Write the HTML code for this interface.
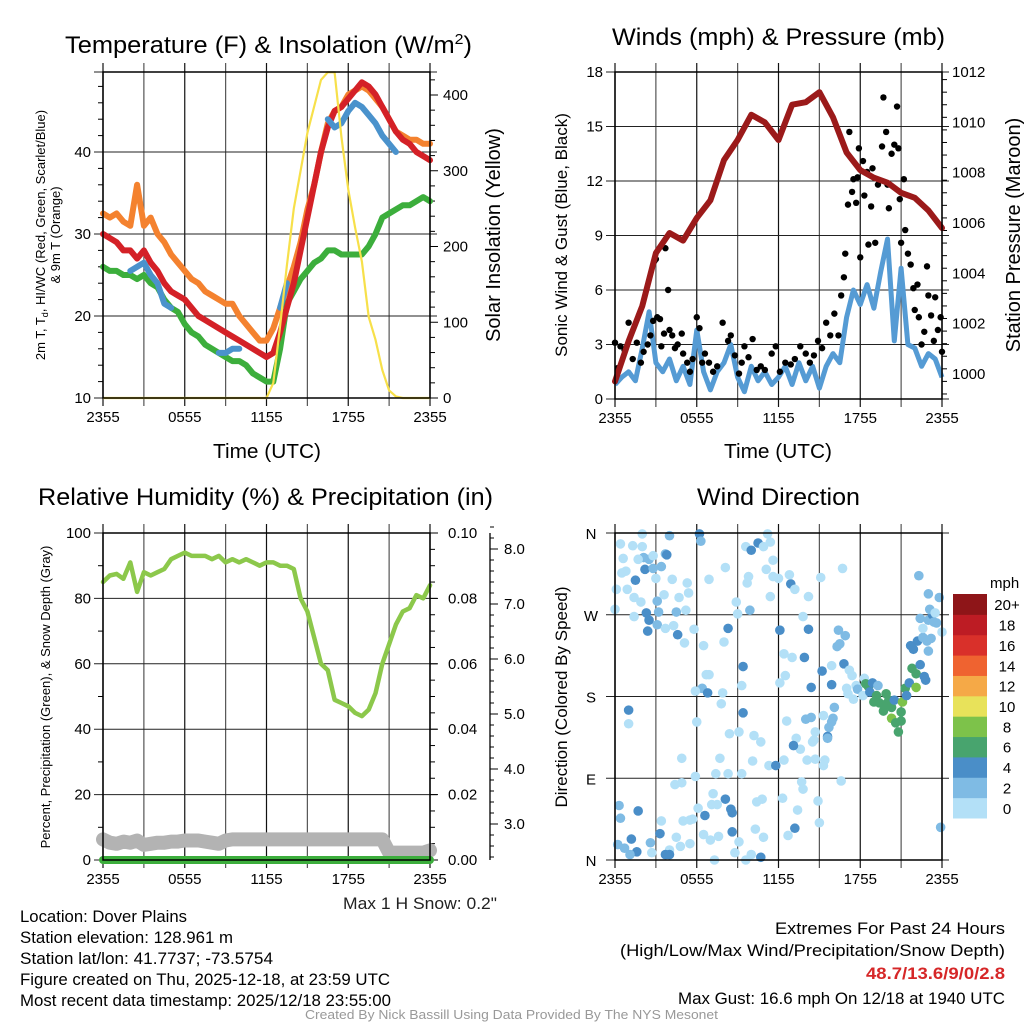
<!DOCTYPE html>
<html><head><meta charset="utf-8"><style>
body{margin:0;background:#fff;}
svg{display:block;font-family:"Liberation Sans",sans-serif;}
</style></head><body>
<svg id="c" width="1024" height="1024" viewBox="0 0 1024 1024" xmlns="http://www.w3.org/2000/svg">
<rect width="1024" height="1024" fill="#fff"/>
<g id="g"></g>
<text x="65" y="53" font-size="24" textLength="407" lengthAdjust="spacingAndGlyphs">Temperature (F) &amp; Insolation (W/m<tspan dy="-9" font-size="15">2</tspan><tspan dy="9">)</tspan></text>
<text x="612" y="45" font-size="24" textLength="333" lengthAdjust="spacingAndGlyphs">Winds (mph) &amp; Pressure (mb)</text>
<text x="38" y="505" font-size="24" textLength="455" lengthAdjust="spacingAndGlyphs">Relative Humidity (%) &amp; Precipitation (in)</text>
<text x="697" y="505" font-size="24" textLength="163" lengthAdjust="spacingAndGlyphs">Wind Direction</text>
<text x="213" y="458" font-size="20" textLength="108" lengthAdjust="spacingAndGlyphs">Time (UTC)</text>
<text x="724" y="458" font-size="20" textLength="108" lengthAdjust="spacingAndGlyphs">Time (UTC)</text>
<text transform="translate(45,235) rotate(-90)" font-size="13" text-anchor="middle"><tspan x="0" y="0">2m T, T<tspan font-size="9" dy="3">d</tspan><tspan dy="-3">, HI/WC (Red, Green, Scarlet/Blue)</tspan></tspan><tspan x="0" y="15">&amp; 9m T (Orange)</tspan></text>
<text transform="translate(500,235) rotate(-90)" font-size="20" text-anchor="middle">Solar Insolation (Yellow)</text>
<text transform="translate(567,235) rotate(-90)" font-size="17" text-anchor="middle">Sonic Wind &amp; Gust (Blue, Black)</text>
<text transform="translate(1020,235) rotate(-90)" font-size="20" text-anchor="middle">Station Pressure (Maroon)</text>
<text transform="translate(50,697) rotate(-90)" font-size="13" text-anchor="middle">Percent, Precipitation (Green), &amp; Snow Depth (Gray)</text>
<text transform="translate(567,697) rotate(-90)" font-size="17" text-anchor="middle">Direction (Colored By Speed)</text>
<text x="990" y="588" font-size="15">mph</text>
<g font-size="17" lengthAdjust="spacingAndGlyphs">
<text x="343" y="909" textLength="154" lengthAdjust="spacingAndGlyphs" fill="#222">Max 1 H Snow: 0.2"</text>
<text x="20" y="922" textLength="167" lengthAdjust="spacingAndGlyphs">Location: Dover Plains</text>
<text x="20" y="943" textLength="213" lengthAdjust="spacingAndGlyphs">Station elevation: 128.961 m</text>
<text x="20" y="964" textLength="253" lengthAdjust="spacingAndGlyphs">Station lat/lon: 41.7737; -73.5754</text>
<text x="20" y="985" textLength="370" lengthAdjust="spacingAndGlyphs">Figure created on Thu, 2025-12-18, at 23:59 UTC</text>
<text x="20" y="1006" textLength="371" lengthAdjust="spacingAndGlyphs">Most recent data timestamp: 2025/12/18 23:55:00</text>
</g>
<g font-size="17">
<text x="775" y="934" textLength="230" lengthAdjust="spacingAndGlyphs">Extremes For Past 24 Hours</text>
<text x="620" y="956" textLength="385" lengthAdjust="spacingAndGlyphs">(High/Low/Max Wind/Precipitation/Snow Depth)</text>
<text x="866" y="979" textLength="139" lengthAdjust="spacingAndGlyphs" fill="#d62728" font-weight="bold">48.7/13.6/9/0/2.8</text>
<text x="678" y="1004" textLength="327" lengthAdjust="spacingAndGlyphs">Max Gust: 16.6 mph On 12/18 at 1940 UTC</text>
</g>
<text x="305" y="1019" font-size="13" textLength="413" lengthAdjust="spacingAndGlyphs" fill="#999">Created By Nick Bassill Using Data Provided By The NYS Mesonet</text>
</svg>
<script>
// ---- data (half-hourly, t = hours since 2355) ----
const tempT=[30,29.5,29,28,28,27,28,26.5,25.5,24,23,22.5,22,21,20,19.5,19,18.5,18,17.5,17,16.5,16,15.5,15,15.5,18,21,24,28,32,36,40,43,45,45.5,46.5,47.5,48.5,48,47,45.5,44,42.5,41.5,41,40,39.5,39];
const temp9m=[32.5,32,32.5,31.5,31,36,31,32,30,29,27.5,26.5,25.5,24.5,24,23,22.5,22,21.5,21.5,20,19,18,17,17,18.5,21,23.5,26,29,33,36,40,43.5,45,45.5,47,47.5,48,47.5,46.5,45.5,44,42.5,42,41.5,41.5,41,41];
const dewT=[26,25.5,25.5,25,25,24.5,25,24,23.5,22,21,20.5,19,18,17.5,16.5,16,15.5,15,14.5,14.5,14,13,12.5,12,12,16,21.5,23,24.5,25.5,26.5,27,28,28,27.5,27.5,27.5,27.5,28.5,30,32,32.5,33,33.5,33.5,34,34.5,34];
const hiwc=[null,null,null,null,25.5,26,26.5,25,24,21.5,21,null,null,null,null,null,null,15.5,15.5,16,16,null,null,null,null,null,21,24,null,null,null,null,null,44,43,43.5,45,46,45.5,44.5,43.5,42,41,40,null,null,null,null,null];
const solar=[0,0,0,0,0,0,0,0,0,0,0,0,0,0,0,0,0,0,0,0,0,0,0,0,0,20,95,175,250,300,350,385,420,430,430,345,275,225,180,107,77,37,10,2,0,0,0,0,0];
const pressure=[999.7,1001.3,1002.7,1004.8,1005.6,1005.3,1006.2,1006.9,1008.5,1009.3,1010.3,1010.0,1009.3,1010.7,1010.8,1011.2,1010.2,1008.8,1008.1,1007.8,1007.6,1007.2,1007.0,1006.5,1005.8];
const windSpd=[0.8,1.2,1.5,1.0,2.8,4.8,2.0,1.5,2.2,1.0,1.8,0.8,3.8,1.5,0.5,1.5,2.0,3.0,1.2,0.4,1.8,1.0,1.5,0.8,1.2,1.8,0.8,2.0,1.0,1.8,0.6,1.8,2.5,2.0,4.5,6.0,5.2,6.3,5.0,7.0,8.8,3.2,7.2,3.0,2.8,1.8,2.5,2.2,1.2];
const gustT=[0,0.2,0.4,0.7,1.0,1.3,1.6,1.9,2.1,2.4,2.6,2.8,2.9,3.0,3.1,3.3,3.4,3.6,3.7,3.9,4.0,4.2,4.4,4.6,4.9,5.0,5.3,5.5,5.7,6.0,6.2,6.4,6.6,6.9,7.2,7.5,7.9,8.3,8.5,8.8,9.1,9.3,9.5,9.8,10.1,10.4,10.7,11.0,11.5,11.8,12.1,12.5,12.9,13.2,13.6,14.0,14.3,14.6,14.9,15.2,15.5,15.8,16.1,16.4,16.6,16.8,16.9,17.1,17.2,17.4,17.5,17.7,17.8,17.9,18.0,18.2,18.3,18.5,18.6,18.8,18.9,19.1,19.3,19.4,19.6,19.7,19.9,20.0,20.1,20.3,20.5,20.7,20.8,20.9,21.0,21.2,21.3,21.5,21.7,21.9,22.0,22.2,22.3,22.5,22.7,22.9,23.0,23.2,23.4,23.5,23.7,23.9,24.0];
const gustV=[3.1,1.7,2.9,2.7,4.2,2.2,3.1,2.0,2.6,3.0,3.5,4.3,7.6,7.7,4.5,4.4,2.9,3.6,8.3,6.0,3.8,3.5,2.8,3.0,3.6,2.5,2.0,1.5,2.2,4.5,3.9,2.0,2.5,2.0,1.5,1.8,4.2,3.2,3.5,2.4,1.4,2.0,2.9,2.3,3.3,1.6,1.8,1.6,2.5,2.9,1.5,2.0,1.9,2.2,2.9,2.5,2.0,2.4,3.2,2.8,4.2,3.5,4.7,3.5,5.7,6.7,8.0,10.7,14.7,11.4,12.1,10.8,12.2,13.8,7.8,13.1,11.2,12.5,8.5,10.6,12.7,8.6,11.8,12.0,13.9,16.6,14.7,11.8,10.5,13.5,14.0,16.1,13.8,11.0,8.6,12.1,9.3,8.0,7.4,6.1,4.9,6.3,4.5,3.0,3.7,7.3,5.7,4.6,3.2,5.6,3.8,4.5,2.6];
const rh=[85,87,87.5,86,91,82,88,87,88,89,92,93,94,93,93,93,92,93,91,92,91,92,91,90,91,91,90,90,89,80,76,68,60,58,49,48,47,45,44,46,51,60,66,72,76,77,81,80,84];
const precip=[0,0,0,0,0,0,0,0,0,0,0,0,0,0,0,0,0,0,0,0,0,0,0,0,0,0,0,0,0,0,0,0,0,0,0,0,0,0,0,0,0,0,0,0,0,0,0,0,0];
const snowDepth=[2.72,2.66,2.64,2.68,2.66,2.7,2.62,2.64,2.66,2.66,2.68,2.68,2.7,2.7,2.7,2.68,2.66,2.64,2.7,2.72,2.72,2.72,2.72,2.72,2.72,2.72,2.72,2.72,2.72,2.72,2.72,2.72,2.72,2.72,2.72,2.72,2.72,2.72,2.72,2.72,2.72,2.72,2.48,2.48,2.48,2.48,2.48,2.48,2.52];
const dirT=[0.4,1.3,2,0.6,0.5,0.8,0.1,0.9,1.5,1.4,1.9,0,1.4,2.3,2.5,2.4,2.2,2.1,2.5,2.8,2,1.7,2.8,3,3.1,3.2,3.1,3.4,3.7,3.8,4,3.6,3.7,4.2,4.3,4.5,4.6,4.7,5.1,5.2,5.3,5.4,5.8,6.2,6.3,6.5,6.9,8.1,8.3,8,8.9,9,9.9,9.6,10,10.5,11.2,11.4,10.9,11.6,11.1,11.6,12,9.8,9.7,11.4,12.9,13.2,12.8,14.2,15.1,16.7,13.8,12.1,14.2,12.4,13,13.9,16.4,16.9,16.5,16.3,16.8,15.9,15.2,15.9,14.4,12.5,12.1,9.4,9.3,6.7,6.9,6.4,6.8,5.9,7.9,7.8,9.4,6,12.6,14,14.4,15.3,16.1,16,15.9,15.7,15.6,15.6,14.7,14.5,14.6,13.3,13.6,13.1,10.7,10.2,9.1,8.4,7.7,7.4,8.3,9.3,10.1,11.3,11.8,12.4,14.1,14.7,15.4,15.3,16.6,13.7,13.8,13.4,14.9,15,12.3,10.8,10.4,10.3,10.9,13.2,12.7,10,10.7,9.6,9.1,8.8,8.6,8.5,8.6,8.1,7.5,7.2,7.1,6.5,7,7.6,7.3,6.1,6.6,5.7,5.5,5,5.9,4.9,4.4,4.9,4.5,4.8,5.5,4,4,3.7,3.3,3.4,2.7,2.6,1.2,1.6,1.1,0.7,0.2,0.4,0.3,1.7,1,1,17.2,17.4,18.3,17,17.1,17.5,17.7,17.8,18.2,18.4,18.6,18.9,18.7,19.3,19.2,19,19.4,19.7,19.9,19.8,20.1,20.3,20.5,20.3,20.6,21,20.8,21,21.1,21.3,21.4,21.6,21.8,22.1,22.1,22.4,22.7,22.8,21.7,21.9,22.2,22.6,22.9,23,22.6,22.4,23,23.3,23.1,23.5,23.4,23.6,23.2,23.8,23,24,22.3,23.9];
const dirDeg=[348,346,359,332,316,318,298,298,308,289,284,276,268,272,264,252,320,333,331,321,345,331,335,310,285,273,259,323,337,336,357,292,255,309,258,273,248,289,239,275,305,294,254,359,351,236,309,322,255,240,284,271,275,345,341,349,359,350,345,330,320,312,310,312,305,290,304,298,314,290,311,321,268,253,254,227,223,223,253,247,238,235,216,214,208,193,190,203,195,213,192,204,204,189,184,186,184,172,162,152,153,155,157,159,168,156,152,146,136,134,141,130,132,134,122,126,130,137,141,139,112,95,95,95,109,104,104,110,110,111,110,104,87,86,78,55,65,41,68,67,64,34,25,35,27,6,3,0,20,8,31,56,52,67,61,73,61,28,22,26,0,57,49,45,44,43,92,112,83,85,25,15,18,11,6,6,29,43,8,19,23,9,6,13,17,46,60,54,165,150,209,203,200,189,183,177,192,188,181,194,191,195,185,192,181,174,173,164,183,171,176,168,176,156,151,153,141,163,174,189,181,195,211,205,190,215,202,198,236,232,241,245,241,230,255,266,264,270,276,272,262,261,244,289,293,251,313,36];
const dirSpd=[1,1,1,1,1,1,1,1,5,1,1,1,1,5,5,5,5,3,3,3,1,1,1,1,3,3,3,3,2,5,3,1,1,1,1,3,5,1,1,1,1,1,1,5,3,1,1,1,5,1,1,1,3,1,5,5,1,1,1,1,1,1,1,1,1,1,5,1,1,1,1,1,1,5,5,1,1,5,3,3,3,3,5,1,5,5,5,1,1,5,1,1,1,3,5,1,1,1,5,1,1,3,3,1,3,3,3,3,5,3,1,1,1,1,1,5,1,1,1,1,1,1,1,1,1,1,5,1,1,1,1,1,1,1,1,1,1,1,1,1,1,1,1,5,1,1,5,1,1,1,5,5,5,5,1,1,1,1,1,1,1,1,5,1,1,1,1,1,1,1,1,1,1,1,5,5,5,1,1,3,5,5,3,3,3,3,3,5,5,1,1,1,1,1,1,1,1,3,1,7,7,5,5,3,7,7,7,7,7,7,7,7,5,9,7,7,7,7,9,7,5,5,7,7,9,5,5,5,5,5,5,3,3,3,1,3,3,5,3,1,3,3,3,3,3,1,3,3,3,3,3,3,1,3,5,3,5,1];
const speedLabels=["0","2","4","6","8","10","12","14","16","18","20+"];
const speedColors=["#b3e0f7","#7fbbe4","#4a8ec8","#48a46e","#7dc24a","#e8e25a","#f5a947","#ef6330","#d9302a","#bd1c24","#8e1518"];
const timeLabels=["2355","0555","1155","1755","2355"];
const tempTicks=[10,20,30,40];
const solarTicks=[0,100,200,300,400];
const windTicks=[0,3,6,9,12,15,18];
const presTicks=[1000,1002,1004,1006,1008,1010,1012];
const rhTicks=[0,20,40,60,80,100];
const precipTicks=["0.00","0.02","0.04","0.06","0.08","0.10"];
const snowTicks=[3,4,5,6,7,8];
const dirLabels=["N","E","S","W","N"];

const NS="http://www.w3.org/2000/svg";
const G=document.getElementById('g');
function mk(tag,attrs,parent){const e=document.createElementNS(NS,tag);for(const k in attrs)e.setAttribute(k,attrs[k]);(parent||G).appendChild(e);return e;}
function txt(x,y,s,size,anchor,parent){const e=mk('text',{x:x,y:y,'font-size':size,'text-anchor':anchor},parent);e.textContent=s;return e;}
function lineD(xs,arr,fx,fy){let d='',pen=false;arr.forEach((v,i)=>{if(v===null){pen=false;return;}d+=(pen?'L':'M')+fx(xs[i]).toFixed(1)+' '+fy(v).toFixed(1);pen=true;});return d;}
const half=[];for(let i=0;i<49;i++)half.push(i*0.5);
const hourly=[];for(let i=0;i<25;i++)hourly.push(i);

function frame(name,x0,x1,y0,y1,hgrid,vfx){
  const g=mk('g',{});
  
  
  for(let h=3;h<24;h+=3){const x=vfx(h);mk('line',{x1:x,x2:x,y1:y0-9,y2:y1+8,stroke:h%6?'#555':'#111','stroke-width':1.2},g);}
  [0,24].forEach(h=>{const x=vfx(h);mk('line',{x1:x,x2:x,y1:y0-9,y2:y1+8,stroke:'#111','stroke-width':1.2},g);});
  hgrid.forEach(y=>mk('line',{x1:x0-9,x2:x1+7,y1:y,y2:y,stroke:'#222','stroke-width':1},g));
  timeLabels.forEach((s,i)=>{const t=txt(vfx(i*6),y1+24,s,15,'middle',g);});
  return g;
}
function border(name,x0,x1,y0,y1){const r=mk('rect',{x:x0,y:y0,width:x1-x0,height:y1-y0,fill:'none',stroke:'#000','stroke-width':1.5});}

// ---- Panel 1: temperature ----
(function(){
 const x0=103,x1=430,y0=72,y1=398;
 const fx=t=>x0+t*(x1-x0)/24, fy=v=>y1-(v-10)*8.2, fs=v=>y1-v*0.7575;
 const g=frame('temperature',x0,x1,y0,y1,tempTicks.map(fy).concat([y0]),fx);
 tempTicks.forEach(v=>txt(x0-12,fy(v)+5,String(v),15,'end',g));
 solarTicks.forEach(v=>{txt(x1+13,fs(v)+5,String(v),15,'start',g);});
 for(let v=0;v<=420;v+=20)mk('line',{x1:x1,x2:x1+(v%100?5:8),y1:fs(v),y2:fs(v),stroke:'#000'},g);
 for(let v=12;v<=48;v+=2)if(v%10)mk('line',{x1:x0-5,x2:x0,y1:fy(v),y2:fy(v),stroke:'#000'},g);
 const s=[['orange',temp9m,'#f4822f'],['dewpoint',dewT,'#3cae3c'],['temperature',tempT,'#d42127'],['heat-index-wind-chill',hiwc,'#4a92cc']];
 s.forEach(([n,a,c])=>{const p=mk('path',{d:lineD(half,a,fx,fy),fill:'none',stroke:c,'stroke-width':6,'stroke-linejoin':'round','stroke-linecap':'round'});
  });
 const sp=mk('path',{d:lineD(half,solar,fx,fs),fill:'none',stroke:'#f7e04a','stroke-width':2.2});
 
 border('temperature',x0,x1,y0,y1);
})();

// ---- Panel 2: winds ----
(function(){
 const x0=615,x1=942,y0=72,y1=399;
 const fx=t=>x0+t*(x1-x0)/24, fy=v=>y1-v*(y1-y0)/18, fp=p=>y1-(p-999)*25.15;
 const g=frame('winds',x0,x1,y0,y1,windTicks.map(fy),fx);
 windTicks.forEach(v=>txt(x0-12,fy(v)+5,String(v),15,'end',g));
 presTicks.forEach(v=>txt(x1+10,fp(v)+5,String(v),15,'start',g));
 for(let p=999.2;p<=1012.01;p+=0.5)mk('line',{x1:x1,x2:x1+(Math.abs(p-Math.round(p/2)*2)<0.01?8:5),y1:fp(p),y2:fp(p),stroke:'#000'},g);
 const wp=mk('path',{d:lineD(half,windSpd,fx,fy),fill:'none',stroke:'#559bd4','stroke-width':5,'stroke-linejoin':'round'});
 
 const gg=mk('g',{});
 gustT.forEach((t,i)=>{const c=mk('circle',{cx:fx(t),cy:fy(gustV[i]),r:3.2,fill:'#000'},gg);
  });
 const pp=mk('path',{d:lineD(hourly,pressure,fx,fp),fill:'none',stroke:'#9b1a1a','stroke-width':6,'stroke-linejoin':'round','stroke-linecap':'round'});
 
 border('winds',x0,x1,y0,y1);
})();

// ---- Panel 3: humidity ----
(function(){
 const x0=103,x1=430,y0=533,y1=860;
 const fx=t=>x0+t*(x1-x0)/24, fy=v=>y1-v*3.27, fpr=v=>y1-v*3270, fsn=v=>824-(v-3)*55;
 const g=frame('humidity',x0,x1,y0,y1,rhTicks.map(fy),fx);
 rhTicks.forEach(v=>txt(x0-12,fy(v)+5,String(v),15,'end',g));
 precipTicks.forEach((s,i)=>txt(x1+18,fy(i*20)+5,s,15,'start',g));
 for(let v=0;v<=100;v+=5)mk('line',{x1:x1,x2:x1+(v%20?5:8),y1:fy(v),y2:fy(v),stroke:'#000'},g);
 for(let v=10;v<100;v+=20)mk('line',{x1:x0-5,x2:x0,y1:fy(v),y2:fy(v),stroke:'#000'},g);
 const sa=mk('g',{});
 mk('line',{x1:490,x2:490,y1:y0,y2:y1,stroke:'#000','stroke-width':1.3},sa);
 for(let v=2.4;v<=8.41;v+=0.2)mk('line',{x1:490,x2:490+(Math.abs(v-Math.round(v))<0.01?8:4),y1:fsn(v),y2:fsn(v),stroke:'#000'},sa);
 snowTicks.forEach(v=>txt(504,fsn(v)+5,v.toFixed(1),15,'start',sa));
 const sp=mk('path',{d:lineD(half,snowDepth,fx,fsn),fill:'none',stroke:'#b3b3b3','stroke-width':14,'stroke-linejoin':'round','stroke-linecap':'round'});
 
 const pr=mk('path',{d:lineD(half,precip,fx,fpr),fill:'none',stroke:'#3cae3c','stroke-width':8,'stroke-linecap':'round'});
 
 const rp=mk('path',{d:lineD(half,rh,fx,fy),fill:'none',stroke:'#8cc84b','stroke-width':4.5,'stroke-linejoin':'round','stroke-linecap':'round'});
 
 border('humidity',x0,x1,y0,y1);
})();

// ---- Panel 4: wind direction ----
(function(){
 const x0=615,x1=942,y0=533,y1=860;
 const fx=t=>x0+t*(x1-x0)/24, fy=d=>y1-d*(y1-y0)/360;
 const g=frame('direction',x0,x1,y0,y1,[0,90,180,270,360].map(fy),fx);
 dirLabels.forEach((s,i)=>txt(x0-24,fy(i*90)+6,s,15,'middle',g));
 const pg=mk('g',{});
 dirT.forEach((t,i)=>{const b=Math.min(10,Math.floor(dirSpd[i]/2));
  const c=mk('circle',{cx:fx(t),cy:fy(dirDeg[i]),r:4.8,fill:speedColors[b]},pg);
  });
 border('direction',x0,x1,y0,y1);
 const cb=mk('g',{});
 const h=224/11;
 speedLabels.forEach((s,i)=>{const y=818-(i+1)*h;
  const r=mk('rect',{x:953,y:y,width:34,height:h+0.5,fill:speedColors[i]},cb);
  
  txt(1007,y+h/2+6,s,15,'middle',cb);});
})();
</script>
</body></html>
